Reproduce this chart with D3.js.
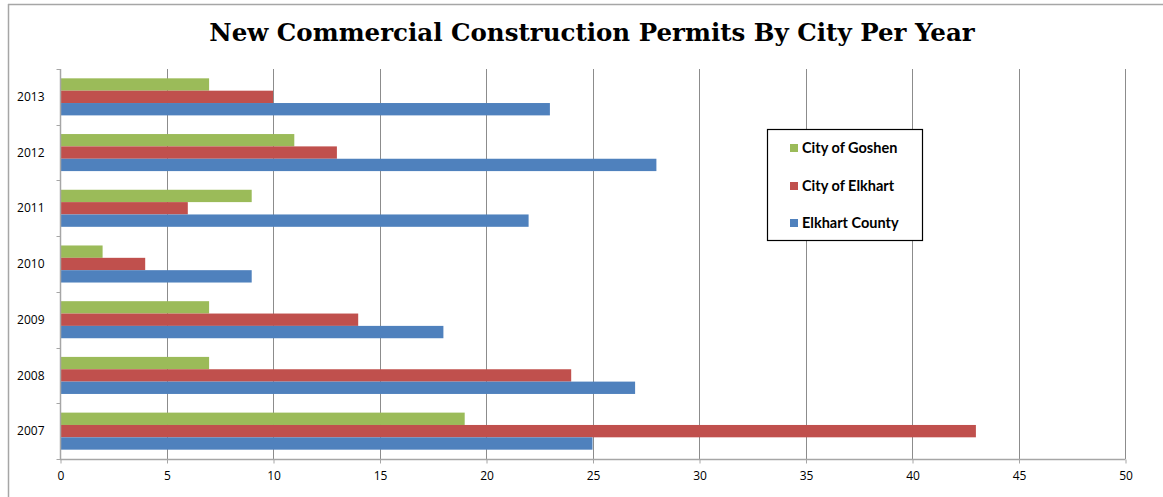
<!DOCTYPE html>
<html>
<head>
<meta charset="utf-8">
<script src="https://cdn.jsdelivr.net/npm/d3@7"></script>
<style>
  html, body { margin: 0; padding: 0; background: #fff; }
  svg { display: block; }
</style>
</head>
<body>
<svg id="chart" width="1163" height="497"></svg>
<script>
const years = ["2007", "2008", "2009", "2010", "2011", "2012", "2013"];
const seriesNames = ["City of Goshen", "City of Elkhart", "Elkhart County"];
const goshen  = [19, 7, 7, 2, 9, 11, 7];
const elkhart = [43, 24, 14, 4, 6, 13, 10];
const county  = [25, 27, 18, 9, 22, 28, 23];
const seriesColors = ["#9BBB59", "#C0504D", "#4F81BD"];
const xTicks = [0, 5, 10, 15, 20, 25, 30, 35, 40, 45, 50];
const titleText = "New Commercial Construction Permits By City Per Year";

const seriesValues = [goshen, elkhart, county];
const svg = d3.select("#chart");

// outer frame (top and left edges visible)
svg.append("line").attr("x1", 8).attr("x2", 1163).attr("y1", 4.5).attr("y2", 4.5)
  .attr("stroke", "#a6a6a6").attr("stroke-width", 1.5);
svg.append("line").attr("x1", 8.5).attr("x2", 8.5).attr("y1", 4).attr("y2", 497)
  .attr("stroke", "#a6a6a6").attr("stroke-width", 1.5);

const pLeft = 60, pRight = 1125, pTop = 69, pBottom = 459;

const x = d3.scaleLinear().domain([0, 50]).range([pLeft, pRight]);
const yOrder = years.slice().reverse(); // 2013 at top
const y = d3.scaleBand().domain(yOrder).range([pTop, pBottom]).paddingInner(0).paddingOuter(0);
const groupFrac = 0.665;
const inner = d3.scaleBand().domain(seriesNames).range([0, y.bandwidth() * groupFrac]);
const groupOffset = (y.bandwidth() - y.bandwidth() * groupFrac) / 2;

// gridlines
svg.append("g").selectAll("line").data(xTicks.filter(t => t > 0)).join("line")
  .attr("x1", d => Math.round(x(d)) + 0.5).attr("x2", d => Math.round(x(d)) + 0.5)
  .attr("y1", pTop).attr("y2", pBottom)
  .attr("stroke", "#8c8c8c").attr("stroke-width", 1);

// bars
const rows = [];
years.forEach((yr, i) => {
  seriesNames.forEach((s, j) => {
    rows.push({ year: yr, series: s, value: seriesValues[j][i], color: seriesColors[j] });
  });
});
svg.append("g").selectAll("rect").data(rows).join("rect")
  .attr("x", x(0) + 1)
  .attr("y", d => y(d.year) + groupOffset + inner(d.series))
  .attr("width", d => x(d.value) - x(0) - 1)
  .attr("height", inner.bandwidth())
  .attr("fill", d => d.color);

// x axis
const xAxis = d3.axisBottom(x).tickValues(xTicks).tickSize(4).tickPadding(8).tickFormat(d3.format("d"));
const gx = svg.append("g").attr("transform", `translate(0.5,${pBottom + 0.5})`).call(xAxis);
gx.select(".domain").attr("stroke", "#a6a6a6").attr("stroke-width", 1.5).attr("d", `M${pLeft - 0.5},0H${pRight}`);
gx.selectAll(".tick line").attr("stroke", "#a6a6a6");
gx.selectAll(".tick text").attr("fill", "#000").attr("font-family", "'Open Sans', 'Liberation Sans', sans-serif").attr("font-size", 12);

// y axis
const gy = svg.append("g").attr("transform", `translate(${pLeft + 0.5},0)`);
gy.append("line").attr("x1", 0).attr("x2", 0).attr("y1", pTop).attr("y2", pBottom)
  .attr("stroke", "#a6a6a6").attr("stroke-width", 1.5);
const boundaries = yOrder.map(d => y(d)).concat([pBottom]);
gy.selectAll("line.tk").data(boundaries).join("line").attr("class", "tk")
  .attr("x1", -4).attr("x2", 0).attr("y1", d => Math.round(d) + 0.5).attr("y2", d => Math.round(d) + 0.5)
  .attr("stroke", "#a6a6a6");
gy.selectAll("text").data(yOrder).join("text")
  .attr("x", -16).attr("y", d => y(d) + y.bandwidth() / 2)
  .attr("dy", "0.35em").attr("text-anchor", "end")
  .attr("font-family", "'Open Sans', 'Liberation Sans', sans-serif").attr("font-size", 12)
  .attr("fill", "#000").text(d => d);

// title
svg.append("text").attr("x", 592).attr("y", 41).attr("text-anchor", "middle")
  .attr("font-family", "'DejaVu Serif', 'Liberation Serif', serif").attr("font-weight", "bold")
  .attr("font-size", 24.5).attr("fill", "#000").text(titleText);

// legend
const lg = svg.append("g");
lg.append("rect").attr("x", 767.5).attr("y", 129.5).attr("width", 155).attr("height", 111)
  .attr("fill", "#fff").attr("stroke", "#000").attr("stroke-width", 1.2);
const legendY = [148, 186, 223];
seriesNames.forEach((s, j) => {
  lg.append("rect").attr("x", 790).attr("y", legendY[j] - 4).attr("width", 8).attr("height", 8)
    .attr("fill", seriesColors[j]);
  lg.append("text").attr("x", 802).attr("y", legendY[j]).attr("dy", "0.35em")
    .attr("font-family", "Lato, 'Open Sans', sans-serif").attr("font-weight", "bold")
    .attr("font-size", 14.5).attr("fill", "#000").text(s);
});
</script>
</body>
</html>
